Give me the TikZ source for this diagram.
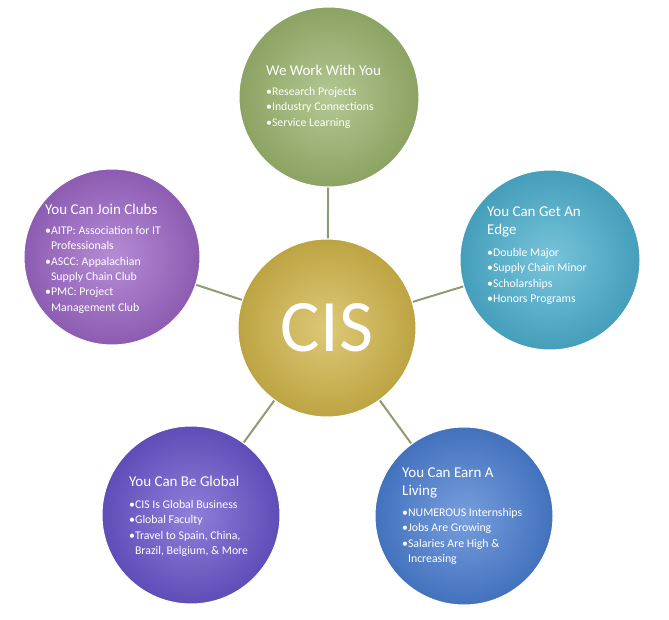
\documentclass[tikz,border=0pt]{standalone}
\usepackage{fontspec}
\setmainfont{Carlito}
\usetikzlibrary{positioning,backgrounds}

\definecolor{cisgold}{HTML}{D2B64A}
\definecolor{workgreen}{HTML}{9BB56E}
\definecolor{edgecyan}{HTML}{4CB0CF}
\definecolor{earnblue}{HTML}{4A7ED2}
\definecolor{globalviolet}{HTML}{6A55CC}
\definecolor{clubspurple}{HTML}{9C66C6}
\definecolor{spokegray}{HTML}{8E9C72}

\tikzset{
  bubble/.style={circle,minimum size=#1,inner sep=0pt,draw=white,line width=1pt},
  tint/.style={inner color=#1!75!white,outer color=#1!90!black},
  head/.style={font=\fontsize{15}{17.5}\selectfont,text=white,align=left,inner sep=0pt},
  items/.style={font=\fontsize{11.8}{15.4}\selectfont,text=white,align=left,inner sep=0pt},
  spoke/.style={draw=spokegray,line width=2pt}
}

\begin{document}
\begin{tikzpicture}[x=1pt,y=-1pt]
  \useasboundingbox (0,0) rectangle (669,620);
  \node[bubble=178,tint=cisgold] (cis) at (327,328) {};
  \node[text=white,font=\fontsize{74}{76}\selectfont] (cisname) at (cis) {CIS};
  \node[bubble=180,tint=workgreen] (work) at (329,97) {};
  \node[bubble=180,tint=edgecyan] (edge) at (550,260) {};
  \node[bubble=178,tint=earnblue] (earn) at (464,516) {};
  \node[bubble=178,tint=globalviolet] (global) at (191,515) {};
  \node[bubble=176,tint=clubspurple] (clubs) at (112,257) {};

  % spokes behind the bubbles
  \begin{scope}[on background layer]
    \foreach \b in {work,edge,earn,global,clubs}
      \path[spoke] (cis) -- (\b);
  \end{scope}

  \node[head,anchor=north west] (workhd) at (266,65) {We Work With You};
  \node[items,anchor=north west] (workli) at (266,87) {•Research Projects\\•Industry Connections\\•Service Learning};

  \node[head,anchor=north west] (edgehd) at (487,207) {You Can Get An\\Edge};
  \node[items,anchor=north west] (edgeli) at (487,248) {•Double Major\\•Supply Chain Minor\\•Scholarships\\•Honors Programs};

  \node[head,anchor=north west] (earnhd) at (402,468) {You Can Earn A\\Living};
  \node[items,anchor=north west] (earnli) at (402,508) {•NUMEROUS Internships\\•Jobs Are Growing\\•Salaries Are High \&\\\phantom{•}Increasing};

  \node[head,anchor=north west] (globalhd) at (129,476) {You Can Be Global};
  \node[items,anchor=north west] (globalli) at (129,500) {•CIS Is Global Business\\•Global Faculty\\•Travel to Spain, China,\\\phantom{•}Brazil, Belgium, \& More};

  \node[head,anchor=north west] (clubshd) at (45,204) {You Can Join Clubs};
  \node[items,anchor=north west] (clubsli) at (45,226) {•AITP: Association for IT\\\phantom{•}Professionals\\•ASCC: Appalachian\\\phantom{•}Supply Chain Club\\•PMC: Project\\\phantom{•}Management Club};
\end{tikzpicture}
\end{document}
